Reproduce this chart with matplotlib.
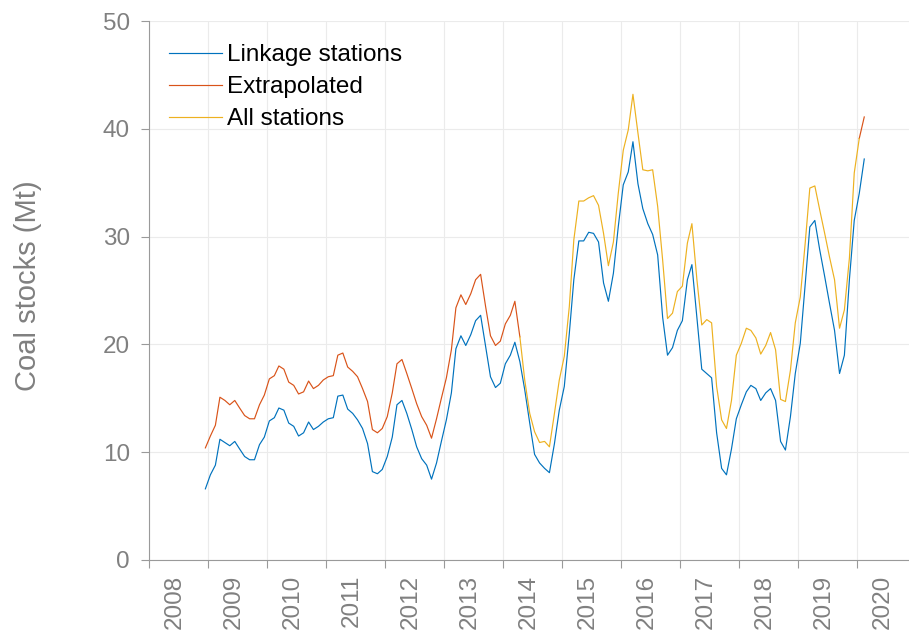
import numpy as np
import pandas as pd
import matplotlib
matplotlib.use('Agg')
import matplotlib.pyplot as plt
import matplotlib.dates as mdates
from matplotlib.ticker import FixedLocator, FixedFormatter, NullFormatter

plt.rcParams['font.family'] = ['Liberation Sans', 'DejaVu Sans']

nan = np.nan

# monthly observations, Dec 2008 .. Feb 2020 (plotted mid-month)
months = pd.date_range('2008-12-01', '2020-02-01', freq='MS') + pd.Timedelta(days=14)

linkage = [6.6,
    7.9, 8.8, 11.2, 10.9, 10.6, 11.0, 10.3, 9.6, 9.3, 9.3, 10.7, 11.4,      # 2009
    12.9, 13.2, 14.1, 13.9, 12.7, 12.4, 11.5, 11.8, 12.8, 12.1, 12.4, 12.8, # 2010
    13.1, 13.2, 15.2, 15.3, 14.0, 13.6, 13.0, 12.2, 10.8, 8.2, 8.0, 8.4,    # 2011
    9.6, 11.4, 14.4, 14.8, 13.6, 12.1, 10.5, 9.4, 8.8, 7.5, 9.0, 11.0,      # 2012
    13.0, 15.5, 19.6, 20.8, 19.9, 20.9, 22.2, 22.7, 19.8, 17.0, 16.0, 16.4, # 2013
    18.2, 19.0, 20.2, 18.4, 15.8, 12.7, 9.8, 9.0, 8.5, 8.1, 10.8, 13.9,     # 2014
    16.1, 21.0, 26.0, 29.6, 29.6, 30.4, 30.3, 29.5, 25.7, 24.0, 26.6, 30.9, # 2015
    34.8, 36.0, 38.8, 34.9, 32.6, 31.2, 30.2, 28.3, 22.5, 19.0, 19.7, 21.3, # 2016
    22.2, 26.0, 27.4, 22.5, 17.7, 17.3, 16.9, 11.8, 8.5, 7.9, 10.3, 13.1,   # 2017
    14.4, 15.6, 16.2, 15.9, 14.8, 15.5, 15.9, 14.8, 11.0, 10.2, 13.3, 17.3, # 2018
    20.1, 25.7, 30.9, 31.5, 28.8, 26.3, 23.8, 21.3, 17.3, 19.0, 26.0, 31.5, # 2019
    34.0, 37.2]                                                              # 2020

extrapolated = [10.4,
    11.5, 12.5, 15.1, 14.8, 14.4, 14.8, 14.1, 13.4, 13.1, 13.1, 14.4, 15.3, # 2009
    16.8, 17.1, 18.0, 17.7, 16.5, 16.2, 15.4, 15.6, 16.6, 15.9, 16.2, 16.7, # 2010
    17.0, 17.1, 19.0, 19.2, 17.9, 17.5, 17.0, 15.9, 14.7, 12.1, 11.8, 12.2, # 2011
    13.3, 15.5, 18.2, 18.6, 17.3, 15.9, 14.5, 13.3, 12.5, 11.3, 13.1, 15.0, # 2012
    16.9, 19.5, 23.4, 24.6, 23.7, 24.7, 26.0, 26.5, 23.5, 20.8, 19.9, 20.3, # 2013
    21.9, 22.7, 24.0, 20.7] + [nan] * 68 + [39.1, 41.1]

all_stations = [nan] * 64 + [20.7, 16.7, 13.6, 11.9, 10.9, 11.0, 10.5, 13.6, 16.7,  # 2014
    18.9, 23.5, 29.7, 33.3, 33.3, 33.6, 33.8, 32.9, 30.3, 27.3, 29.5, 34.0, # 2015
    38.0, 39.9, 43.2, 39.6, 36.2, 36.1, 36.2, 32.8, 27.8, 22.4, 22.9, 24.9, # 2016
    25.4, 29.4, 31.2, 26.0, 21.8, 22.3, 22.0, 16.1, 13.0, 12.2, 14.8, 19.0, # 2017
    20.1, 21.5, 21.3, 20.6, 19.1, 19.9, 21.1, 19.5, 14.9, 14.7, 17.6, 22.0, # 2018
    24.4, 29.5, 34.5, 34.7, 32.5, 30.3, 28.1, 26.0, 21.5, 23.2, 28.0, 35.9, # 2019
    39.1, nan]

series_names = ['Linkage stations', 'Extrapolated', 'All stations']
series_colors = ['#0072BD', '#D95319', '#EDB120']
years = list(range(2008, 2021))
year_labels = [str(y) for y in years]
y_ticks = [0, 10, 20, 30, 40, 50]

grey_text = '#808080'
grey_axis = '#9a9a9a'

fig = plt.figure(figsize=(9.09, 6.37), dpi=100)
ax = fig.add_axes([149 / 909, 77 / 637, 760 / 909, 539 / 637])

for vals, name, col in zip([linkage, extrapolated, all_stations], series_names, series_colors):
    ax.plot(months, vals, color=col, lw=0.85, label=name)

ax.set_ylim(0, 50)
ax.set_xlim(pd.Timestamp('2008-01-01'), pd.Timestamp('2020-11-18'))

ax.set_yticks(y_ticks)
ax.tick_params(axis='y', which='major', direction='out', length=5.8, width=0.8,
               color=grey_axis, labelcolor=grey_text, labelsize=17.5, pad=8)

# major ticks at year boundaries (no labels), labels centred within each year
major_pos = [mdates.date2num(pd.Timestamp(f'{y}-01-01')) for y in years]
label_pos = [mdates.date2num(pd.Timestamp(f'{y}-06-10')) for y in years]
ax.xaxis.set_major_locator(FixedLocator(major_pos))
ax.xaxis.set_major_formatter(NullFormatter())
ax.xaxis.set_minor_locator(FixedLocator(label_pos))
ax.xaxis.set_minor_formatter(FixedFormatter(year_labels))
ax.tick_params(axis='x', which='major', direction='out', length=5.8, width=0.8, color=grey_axis)
ax.tick_params(axis='x', which='minor', length=0, labelcolor=grey_text, labelsize=17.5,
               pad=10.8, labelrotation=90)

ax.grid(True, which='major', color='#ebebeb', lw=0.8)
ax.set_axisbelow(True)
for s in ['top', 'right']:
    ax.spines[s].set_visible(False)
for s in ['left', 'bottom']:
    ax.spines[s].set_color(grey_axis)
    ax.spines[s].set_linewidth(0.8)

ax.set_ylabel('Coal stocks (Mt)', fontsize=21, color=grey_text, va='center')
ax.yaxis.set_label_coords((28 - 149) / 760, (560 - 286) / 539)

leg = ax.legend(loc='upper left', bbox_to_anchor=(169 / 909, 1 - 44 / 637),
                bbox_transform=fig.transFigure, frameon=False, fontsize=17.5,
                handlelength=2.2, handletextpad=0.2, labelspacing=0.42,
                borderpad=0, borderaxespad=0)
for line in leg.get_lines():
    line.set_linewidth(0.85)

fig.savefig('out.png', dpi=100)
